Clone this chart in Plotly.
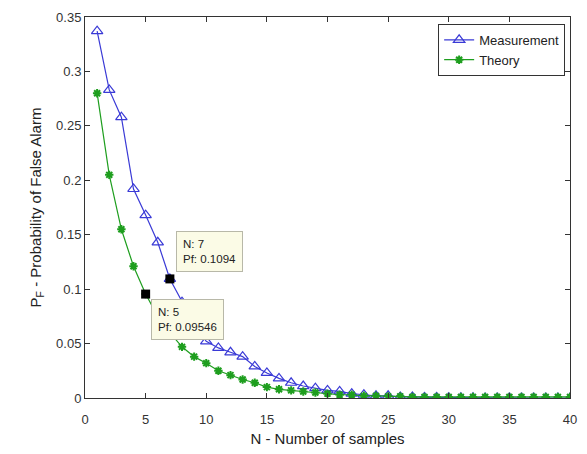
import plotly.graph_objects as go

# Number of samples
n_samples = list(range(1, 41))

# Measured probability of false alarm
pf_measured = [0.337, 0.283, 0.258, 0.192, 0.168, 0.143, 0.1094, 0.088, 0.068, 0.052,
               0.046, 0.042, 0.038, 0.029, 0.023, 0.018, 0.014, 0.011, 0.009, 0.007,
               0.006, 0.004, 0.003, 0.002, 0.002, 0.001, 0.001, 0.0005, 0.0005, 0.0003,
               0.0002, 0.0002, 0.0001, 0.0001, 0.0001, 0.0, 0.0, 0.0, 0.0, 0.0]

# Theoretical probability of false alarm
pf_theory = [0.280, 0.205, 0.155, 0.121, 0.09546, 0.075, 0.060, 0.047, 0.038, 0.032,
             0.025, 0.021, 0.017, 0.014, 0.010, 0.008, 0.007, 0.006, 0.005, 0.004,
             0.003, 0.003, 0.002, 0.002, 0.0015, 0.0015, 0.001, 0.001, 0.001, 0.001,
             0.001, 0.001, 0.001, 0.001, 0.001, 0.001, 0.001, 0.001, 0.001, 0.001]

# Sample counts highlighted with data tips
tip_measured_n = 7
tip_theory_n = 5

blue = "#3a3ad6"
green = "#1e9e1e"
font = "Liberation Sans, Arial, sans-serif"

fig = go.Figure()
fig.add_trace(go.Scatter(
    x=n_samples, y=pf_measured, name="Measurement", mode="lines+markers",
    line=dict(color=blue, width=1.2),
    marker=dict(symbol="triangle-up-open", size=10, color=blue, line=dict(width=1.2, color=blue)),
))
fig.add_trace(go.Scatter(
    x=n_samples, y=pf_theory, name="Theory", mode="lines+markers",
    line=dict(color=green, width=1.2),
    marker=dict(symbol="asterisk-open", size=7, color=green, line=dict(width=2, color=green)),
))

# Data tip markers
tip_x = [tip_measured_n, tip_theory_n]
tip_y = [pf_measured[tip_measured_n - 1], pf_theory[tip_theory_n - 1]]
fig.add_trace(go.Scatter(
    x=tip_x, y=tip_y, mode="markers", showlegend=False,
    marker=dict(symbol="square", size=9, color="black"),
))

tip_style = dict(
    xref="x", yref="y", showarrow=False, xanchor="left", yanchor="top", align="left",
    bgcolor="#fbfbe6", bordercolor="#b8b8a8", borderwidth=1, borderpad=6,
    font=dict(family=font, size=11.5, color="#222222"),
)
fig.add_annotation(
    x=7.5, y=0.1535,
    text=f"N: {tip_measured_n}<br>Pf: {pf_measured[tip_measured_n - 1]:g}", **tip_style)
fig.add_annotation(
    x=5.45, y=0.091,
    text=f"N: {tip_theory_n}<br>Pf: {pf_theory[tip_theory_n - 1]:g}", **tip_style)

axis_common = dict(
    showgrid=False, zeroline=False, showline=True, linecolor="#333333", linewidth=1,
    mirror="ticks", ticks="inside", ticklen=5, tickcolor="#333333",
    tickfont=dict(family=font, size=13, color="#333333"),
)
fig.update_xaxes(range=[0, 40], dtick=5, ticklabelstandoff=9,
                 title=dict(text="N - Number of samples", font=dict(family=font, size=15, color="#222222"),
                            standoff=7),
                 **axis_common)
fig.update_yaxes(range=[0, 0.35], dtick=0.05,
                 title=dict(text="P<sub>F</sub> - Probability of False Alarm",
                            font=dict(family=font, size=15, color="#222222"), standoff=10),
                 **axis_common)

fig.update_layout(
    width=587, height=454,
    margin=dict(l=85, r=10, t=12, b=56),
    plot_bgcolor="white", paper_bgcolor="white",
    font=dict(family=font),
    legend=dict(
        x=0.99, y=0.982, xanchor="right", yanchor="top",
        bgcolor="white", bordercolor="#333333", borderwidth=1,
        font=dict(family=font, size=13, color="#222222"),
        tracegroupgap=0,
    ),
)

fig.write_html("out.html")
